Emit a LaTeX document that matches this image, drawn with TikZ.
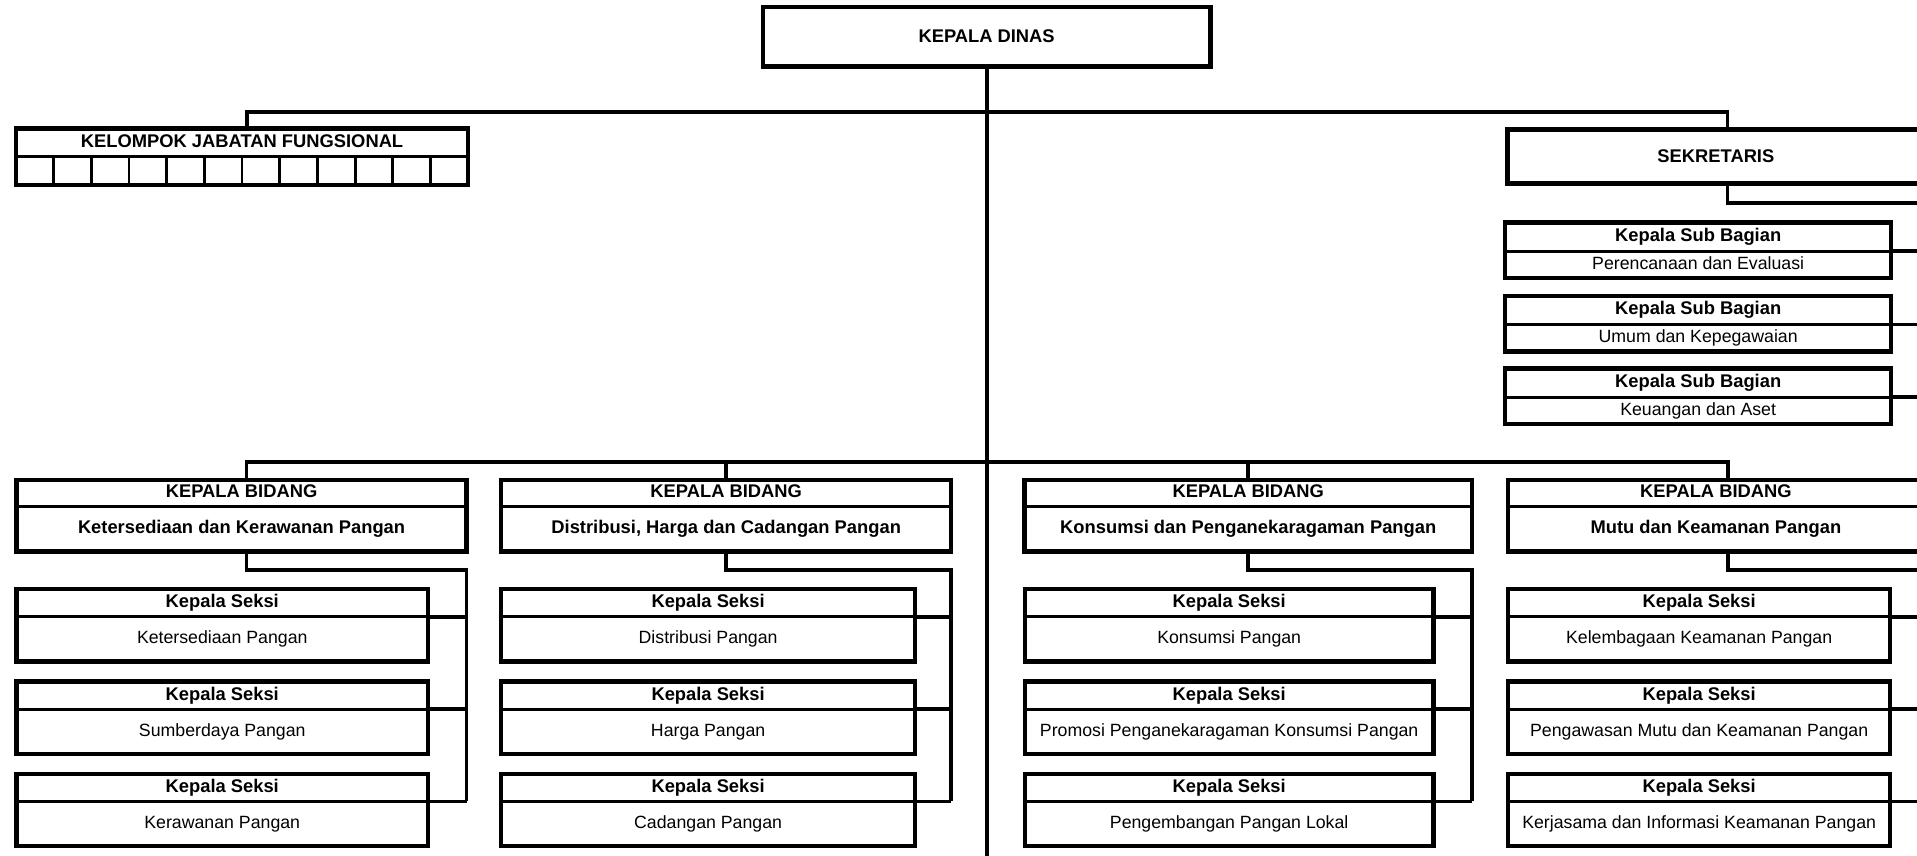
\documentclass[tikz,border=0pt]{standalone}
\usepackage{fontspec}
\setmainfont{Liberation Sans}
\begin{document}
\begin{tikzpicture}[x=1pt,y=-1pt,
  frame/.style={draw, fill=white, line width=3.5pt, inner sep=0pt, outer sep=0pt, anchor=north west},
  rowbox/.style={inner sep=0pt, outer sep=0pt, anchor=north west, align=center,
                 text height=10.8pt, text depth=3pt},
  divider/.style={line width=2.3pt},
  conn/.style={line width=3.1pt},
  hdrfont/.style={font=\fontsize{15}{18}\selectfont\bfseries},
  bodyfont/.style={font=\fontsize{14.5}{17}\selectfont},
]
% two-row unit: #1 name, #2 left, #3 top, #4 width, #5 header height,
% #6 body height, #7 header text, #8 body text, #9 body font style
\newcommand{\orgbox}[9]{%
  \node[frame, minimum width=#4, minimum height={#5+#6}] (#1) at (#2,#3) {};
  \node[rowbox, minimum width=#4, minimum height=#5, hdrfont] (#1-h) at (#1.north west) {#7};
  \node[rowbox, minimum width=#4, minimum height=#6, #9] (#1-b) at (#1-h.south west) {#8};
  \draw[divider] (#1-h.south west) -- (#1-h.south east);
}

\path[use as bounding box] (0,0) rectangle (1568,700);
\clip (0,0) rectangle (1568,700);

% ---- head of office and main trunk
\node[frame, minimum width=366, minimum height=49, hdrfont] (kd) at (624,5.5) {KEPALA DINAS};
\coordinate (trunkend) at (808,710);
\draw[conn] (kd.south) -- (kd.south |- trunkend);

% ---- functional group
\node[frame, minimum width=370, minimum height=46.3] (kjf) at (13,105) {};
\node[rowbox, minimum width=370, minimum height=23, hdrfont] (kjf-h) at (kjf.north west) {KELOMPOK JABATAN FUNGSIONAL};
\draw[divider] (kjf-h.south west) -- (kjf-h.south east);
\foreach \i in {1,...,11}
  \draw[divider] ([xshift={\i*370/12}]kjf-h.south west) -- ([xshift={\i*370/12}]kjf.south west);

% ---- secretariat
\node[frame, minimum width=341, minimum height=44, hdrfont] (sek) at (1233,106) {SEKRETARIS};
\draw[conn] ([xshift=4]kjf.north) -- ++(0,-13.5) -| ([xshift=9.5]sek.north);

\orgbox{sb1}{1231}{182}{316}{23.5}{22}{Kepala Sub Bagian}{Perencanaan dan Evaluasi}{bodyfont}
\orgbox{sb2}{1231}{242}{316}{23.5}{22}{Kepala Sub Bagian}{Umum dan Kepegawaian}{bodyfont}
\orgbox{sb3}{1231}{301.5}{316}{23.5}{22}{Kepala Sub Bagian}{Keuangan dan Aset}{bodyfont}
\coordinate (sbus) at (1600,166);
\draw[conn] ([xshift=9.5]sek.south) |- (sbus);
\foreach \s in {sb1,sb2,sb3}
  \draw[conn] (\s-h.south east) -- (\s-h.south east -| sbus);

% ---- divisions
\orgbox{bd1}{13.6}{392.5}{368}{21.5}{37}{KEPALA BIDANG}{Ketersediaan dan Kerawanan Pangan}{hdrfont}
\orgbox{bd2}{410}{392.5}{368}{21.5}{37}{KEPALA BIDANG}{Distribusi, Harga dan Cadangan Pangan}{hdrfont}
\orgbox{bd3}{838}{392.5}{366}{21.5}{37}{KEPALA BIDANG}{Konsumsi dan Penganekaragaman Pangan}{hdrfont}
\orgbox{bd4}{1233.5}{392.5}{340}{21.5}{37}{KEPALA BIDANG}{Mutu dan Keamanan Pangan}{hdrfont}

\coordinate (lowbus) at (808,378);
\draw[conn] ([xshift=4]bd1.north) -- ++(0,-14.5) -| ([xshift=10]bd4.north);
\draw[conn] (bd2.north) -- (bd2.north |- lowbus);
\draw[conn] (bd3.north) -- (bd3.north |- lowbus);

% ---- sections, column 1
\orgbox{s11}{13.6}{482}{336.4}{22.5}{36.5}{Kepala Seksi}{Ketersediaan Pangan}{bodyfont}
\orgbox{s12}{13.6}{557.5}{336.4}{22.5}{36.5}{Kepala Seksi}{Sumberdaya Pangan}{bodyfont}
\orgbox{s13}{13.6}{633}{336.4}{22.5}{36.5}{Kepala Seksi}{Kerawanan Pangan}{bodyfont}
\draw[conn] ([xshift=4]bd1.south) -- ++(0,15) -| (s13-h.south east -| bd1.east);
\foreach \s in {s11,s12,s13}
  \draw[conn] (\s-h.south east) -- (\s-h.south east -| bd1.east);

% ---- sections, column 2
\orgbox{s21}{410}{482}{338.4}{22.5}{36.5}{Kepala Seksi}{Distribusi Pangan}{bodyfont}
\orgbox{s22}{410}{557.5}{338.4}{22.5}{36.5}{Kepala Seksi}{Harga Pangan}{bodyfont}
\orgbox{s23}{410}{633}{338.4}{22.5}{36.5}{Kepala Seksi}{Cadangan Pangan}{bodyfont}
\draw[conn] (bd2.south) -- ++(0,15) -| (s23-h.south east -| bd2.east);
\foreach \s in {s21,s22,s23}
  \draw[conn] (\s-h.south east) -- (\s-h.south east -| bd2.east);

% ---- sections, column 3
\orgbox{s31}{838.4}{482}{334}{22.5}{36.5}{Kepala Seksi}{Konsumsi Pangan}{bodyfont}
\orgbox{s32}{838.4}{557.5}{334}{22.5}{36.5}{Kepala Seksi}{Promosi Penganekaragaman Konsumsi Pangan}{bodyfont}
\orgbox{s33}{838.4}{633}{334}{22.5}{36.5}{Kepala Seksi}{Pengembangan Pangan Lokal}{bodyfont}
\draw[conn] (bd3.south) -- ++(0,15) -| (s33-h.south east -| bd3.east);
\foreach \s in {s31,s32,s33}
  \draw[conn] (\s-h.south east) -- (\s-h.south east -| bd3.east);

% ---- sections, column 4
\orgbox{s41}{1233.6}{482}{312.4}{22.5}{36.5}{Kepala Seksi}{Kelembagaan Keamanan Pangan}{bodyfont}
\orgbox{s42}{1233.6}{557.5}{312.4}{22.5}{36.5}{Kepala Seksi}{Pengawasan Mutu dan Keamanan Pangan}{bodyfont}
\orgbox{s43}{1233.6}{633}{312.4}{22.5}{36.5}{Kepala Seksi}{Kerjasama dan Informasi Keamanan Pangan}{bodyfont}
\coordinate (mbus) at (1600,466);
\draw[conn] ([xshift=10]bd4.south) |- (mbus);
\foreach \s in {s41,s42,s43}
  \draw[conn] (\s-h.south east) -- (\s-h.south east -| mbus);
\end{tikzpicture}
\end{document}
